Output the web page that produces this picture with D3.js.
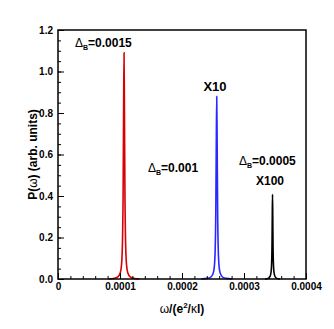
<!DOCTYPE html>
<html>
<head>
<meta charset="utf-8">
<script src="https://cdn.jsdelivr.net/npm/d3@7"></script>
<style>
  body { margin: 0; background: #fff; }
  svg { display: block; font-family: 'Liberation Sans', Arial, sans-serif; }
  .tick-label { font-size: 10px; font-weight: bold; }
</style>
</head>
<body>
<svg id="chart" width="334" height="329"></svg>
<script>
/* global d3 */

// tick values
const xTicks = [0, 0.0001, 0.0002, 0.0003, 0.0004];
const xTickLabels = ['0', '0.0001', '0.0002', '0.0003', '0.0004'];
const yTicks = [0, 0.2, 0.4, 0.6, 0.8, 1.0, 1.2];
const yTickLabels = ['0.0', '0.2', '0.4', '0.6', '0.8', '1.0', '1.2'];

// red peak, Delta_B = 0.0015
const redOmega = [0.0000815, 0.0000915, 0.0000965, 0.0001005, 0.0001025, 0.000104, 0.000105, 0.0001058,
  0.0001065, 0.0001072, 0.000108, 0.000109, 0.0001105, 0.0001125, 0.0001165, 0.0001215, 0.0001315];
const redP = [0, 0.004, 0.010, 0.03, 0.07, 0.18, 0.40, 0.80, 1.09, 0.80, 0.40, 0.18, 0.07, 0.03, 0.010, 0.004, 0];

// blue peak, Delta_B = 0.001 (x10)
const blueOmega = [0.000231, 0.000241, 0.000246, 0.00025, 0.000252, 0.0002535, 0.0002545, 0.0002553,
  0.000256, 0.0002567, 0.0002575, 0.0002585, 0.00026, 0.000262, 0.000266, 0.000271, 0.000281];
const blueP = [0, 0.003, 0.008, 0.025, 0.055, 0.14, 0.32, 0.65, 0.879, 0.65, 0.32, 0.14, 0.055, 0.025, 0.008, 0.003, 0];

// black peak, Delta_B = 0.0005 (x100)
const blackOmega = [0.000334, 0.000339, 0.000342, 0.0003435, 0.0003445, 0.0003452, 0.0003456,
  0.000346, 0.0003464, 0.0003468, 0.0003475, 0.0003485, 0.00035, 0.000353, 0.000358];
const blackP = [0, 0.003, 0.012, 0.03, 0.07, 0.17, 0.30, 0.408, 0.30, 0.17, 0.07, 0.03, 0.012, 0.003, 0];

const series = [
  { omega: redOmega, p: redP, color: '#d80000' },
  { omega: blueOmega, p: blueP, color: '#2828ff' },
  { omega: blackOmega, p: blackP, color: '#000' },
];

const margin = { top: 30, right: 28, bottom: 50, left: 58 };
const width = 334 - margin.left - margin.right;
const height = 329 - margin.top - margin.bottom;

const svg = d3.select('#chart');
const g = svg.append('g')
  .attr('transform', `translate(${margin.left},${margin.top})`);

const x = d3.scaleLinear().domain([0, 0.0004]).range([0, width]);
const y = d3.scaleLinear().domain([0, 1.2]).range([height, 0]);

const line = d3.line()
  .curve(d3.curveMonotoneX)
  .x(d => x(d[0]))
  .y(d => y(d[1]));

// peaks
g.selectAll('path.peak')
  .data(series)
  .enter().append('path')
    .attr('class', 'peak')
    .attr('fill', 'none')
    .attr('stroke', d => d.color)
    .attr('stroke-width', 1.6)
    .attr('d', d => line(d.omega.map((w, i) => [w, d.p[i]])));

// inward ticks, drawn over the curves
const xMinor = d3.range(0, 0.0004 + 1e-9, 0.00002);
const yMinor = d3.range(0, 1.2 + 1e-9, 0.05);

g.append('g')
  .attr('transform', `translate(0,${height})`)
  .call(d3.axisBottom(x).tickValues(xMinor).tickSize(-3).tickFormat(''))
  .call(a => a.select('.domain').remove());
g.append('g')
  .call(d3.axisLeft(y).tickValues(yMinor).tickSize(-3).tickFormat(''))
  .call(a => a.select('.domain').remove());

g.append('g')
  .attr('transform', `translate(0,${height})`)
  .call(d3.axisBottom(x).tickValues(xTicks).tickSize(-6).tickPadding(4)
    .tickFormat((d, i) => xTickLabels[i]))
  .call(a => a.select('.domain').remove())
  .call(a => a.selectAll('text').attr('class', 'tick-label').attr('dy', '0.71em').attr('y', 4));

g.append('g')
  .call(d3.axisLeft(y).tickValues(yTicks).tickSize(-6)
    .tickFormat((d, i) => yTickLabels[i]))
  .call(a => a.select('.domain').remove())
  .call(a => a.selectAll('text').attr('class', 'tick-label').attr('x', -5));

g.selectAll('.tick line').attr('stroke', '#000').attr('stroke-width', 1);

// frame
g.append('rect')
  .attr('width', width)
  .attr('height', height)
  .attr('fill', 'none')
  .attr('stroke', '#000')
  .attr('stroke-width', 1.5);

// axis titles
const yTitle = svg.append('text')
  .attr('transform', `translate(37,${margin.top + height / 2}) rotate(-90)`)
  .attr('text-anchor', 'middle')
  .attr('font-size', '12px')
  .attr('font-weight', 'bold');
yTitle.append('tspan').text('P(');
yTitle.append('tspan').attr('font-weight', 'normal').text('ω');
yTitle.append('tspan').text(') (arb. units)');

const xTitle = svg.append('text')
  .attr('x', margin.left + width / 2)
  .attr('y', 313)
  .attr('text-anchor', 'middle')
  .attr('font-size', '12px')
  .attr('font-weight', 'bold');
xTitle.append('tspan').attr('font-weight', 'normal').text('ω');
xTitle.append('tspan').text('/(e');
xTitle.append('tspan').attr('font-size', '8px').attr('dy', -5).text('2');
xTitle.append('tspan').attr('dy', 5).text('/');
xTitle.append('tspan').attr('font-weight', 'normal').text('κ');
xTitle.append('tspan').text('l)');

// annotations
const deltaLabel = (px, py, value) => {
  const t = svg.append('text')
    .attr('x', px)
    .attr('y', py)
    .attr('font-size', '12px')
    .attr('font-weight', 'bold');
  t.append('tspan').attr('font-weight', 'normal').text('Δ');
  t.append('tspan').attr('font-size', '7px').attr('dy', 3).text('B');
  t.append('tspan').attr('dy', -3).text(`=${value}`);
};

deltaLabel(75, 47, '0.0015');
deltaLabel(148, 172, '0.001');
deltaLabel(239, 165, '0.0005');

svg.append('text')
  .attr('x', 215).attr('y', 91)
  .attr('text-anchor', 'middle')
  .attr('font-size', '13px').attr('font-weight', 'bold')
  .text('X10');
svg.append('text')
  .attr('x', 270).attr('y', 185)
  .attr('text-anchor', 'middle')
  .attr('font-size', '12px').attr('font-weight', 'bold')
  .text('X100');
</script>
</body>
</html>
